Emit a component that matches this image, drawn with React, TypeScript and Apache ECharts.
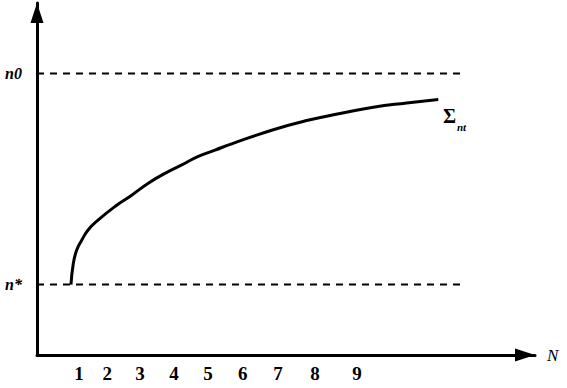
import React, { useEffect, useRef } from "react";
import * as echarts from "echarts";

// Curve Σ: (N, n) points
const curveX = [0.819, 0.875, 0.957, 1.077, 1.236, 1.477, 1.88, 2.282, 2.682, 3.084, 3.487, 3.887, 4.289, 4.692, 5.694, 6.499, 7.301, 8.104, 8.908, 9.67];
const curveY = [1.0, 1.3, 1.49, 1.63, 1.78, 1.92, 2.11, 2.27, 2.44, 2.58, 2.7, 2.82, 2.91, 3.0, 3.2, 3.33, 3.43, 3.52, 3.58, 3.63];

// reference levels
const levelValues = [1, 4];
const levelLabels = ["n*", "n0"];
const levelEnd = 10.27;

// x tick labels (irregular spacing)
const tickPositions = [1.01, 1.69, 2.48, 3.3, 4.12, 4.96, 5.81, 6.7, 7.71];
const tickLabels = ["1", "2", "3", "4", "5", "6", "7", "8", "9"];

const SERIF = "'Liberation Serif', 'DejaVu Serif', serif";

export default function App() {
  const ref = useRef<HTMLDivElement>(null);
  useEffect(() => {
    if (!ref.current) return;
    const chart = echarts.init(ref.current, undefined, { renderer: "svg" });
    const nearest = (arr: number[], v: number) => {
      let bi = 0;
      arr.forEach((a, i) => {
        if (Math.abs(a - v) < Math.abs(arr[bi] - v)) bi = i;
      });
      return bi;
    };
    chart.setOption({
      animation: false,
      backgroundColor: "#fff",
      grid: { left: 37, right: 32, top: 3, bottom: 33, containLabel: false },
      xAxis: {
        type: "value",
        min: 0,
        max: 12,
        name: "N",
        nameLocation: "end",
        nameGap: 12,
        nameTextStyle: { fontFamily: SERIF, fontStyle: "italic", fontSize: 17, color: "#000", verticalAlign: "middle" },
        axisLine: {
          show: true,
          symbol: ["none", "triangle"],
          symbolSize: [13, 20],
          symbolOffset: [0, -10],
          lineStyle: { color: "#000", width: 3 },
        },
        axisTick: { show: false },
        splitLine: { show: false },
        axisLabel: {
          customValues: tickPositions,
          formatter: (v: number) => tickLabels[nearest(tickPositions, v)],
          fontFamily: SERIF,
          fontSize: 19,
          fontWeight: "bold",
          color: "#000",
          margin: 9,
        },
      },
      yAxis: {
        type: "value",
        min: 0,
        max: 5,
        axisLine: {
          show: true,
          symbol: ["none", "triangle"],
          symbolSize: [13, 20],
          symbolOffset: [0, -10],
          lineStyle: { color: "#000", width: 3 },
        },
        axisTick: { show: false },
        splitLine: { show: false },
        axisLabel: {
          customValues: levelValues,
          formatter: (v: number) => levelLabels[nearest(levelValues, v)],
          fontFamily: SERIF,
          fontSize: 16,
          fontStyle: "italic",
          fontWeight: "bold",
          color: "#000",
          margin: 15,
        },
      },
      series: [
        ...levelValues.map((lv) => ({
          type: "line",
          data: [[0, lv], [levelEnd, lv]],
          symbol: "none",
          silent: true,
          lineStyle: { color: "#000", width: 2, type: [7, 6] },
        })),
        {
          type: "line",
          data: curveX.map((x, i) => [x, curveY[i]]),
          symbol: "none",
          smooth: 0.5,
          lineStyle: { color: "#000", width: 3 },
        },
      ],
      graphic: [
        {
          type: "text",
          left: 443,
          top: 106,
          style: { text: "Σ", font: `bold 20px ${SERIF}`, fill: "#000" },
        },
        {
          type: "text",
          left: 457,
          top: 121,
          style: { text: "nt", font: `italic bold 11px ${SERIF}`, fill: "#000" },
        },
      ],
    });
    return () => chart.dispose();
  }, []);
  return <div ref={ref} style={{ width: 567, height: 388, position: "absolute", left: 0, top: 0 }} />;
}
